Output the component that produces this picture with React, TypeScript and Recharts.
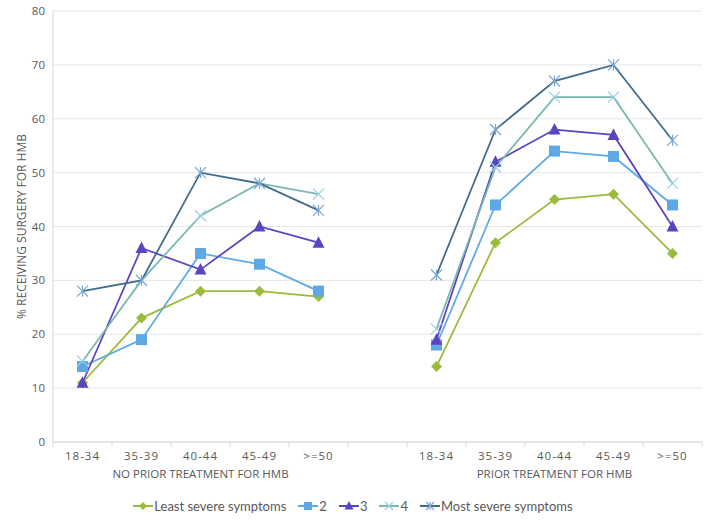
import React from 'react';
import { LineChart, Line, XAxis, YAxis, CartesianGrid, Legend } from 'recharts';

const ageBands = ['18-34', '35-39', '40-44', '45-49', '>=50'];
const groupLabels = ['NO PRIOR TREATMENT FOR HMB', 'PRIOR TREATMENT FOR HMB'];
const yTicks = [0, 10, 20, 30, 40, 50, 60, 70, 80];

// values per age band, no prior treatment / prior treatment
const leastNoPrior = [11, 23, 28, 28, 27];
const leastPrior = [14, 37, 45, 46, 35];
const twoNoPrior = [14, 19, 35, 33, 28];
const twoPrior = [18, 44, 54, 53, 44];
const threeNoPrior = [11, 36, 32, 40, 37];
const threePrior = [19, 52, 58, 57, 40];
const fourNoPrior = [15, 30, 42, 48, 46];
const fourPrior = [21, 51, 64, 64, 48];
const mostNoPrior = [28, 30, 50, 48, 43];
const mostPrior = [31, 58, 67, 70, 56];

const series = [
  { key: 'least', name: 'Least severe symptoms', color: '#9BBB3B', mark: '#9BBB3B', shape: 'diamond', no: leastNoPrior, yes: leastPrior },
  { key: 'two', name: '2', color: '#5DA9E6', mark: '#5DA9E6', shape: 'square', no: twoNoPrior, yes: twoPrior },
  { key: 'three', name: '3', color: '#5A44C2', mark: '#5A44C2', shape: 'triangle', no: threeNoPrior, yes: threePrior },
  { key: 'four', name: '4', color: '#79B8B0', mark: '#9ACFE3', shape: 'x', no: fourNoPrior, yes: fourPrior },
  { key: 'most', name: 'Most severe symptoms', color: '#3F6B8D', mark: '#7AA7CF', shape: 'star', no: mostNoPrior, yes: mostPrior },
];

const rows: any[] = [];
ageBands.forEach((a, i) => {
  const r: any = { label: a, group: i === 2 ? groupLabels[0] : '' };
  series.forEach((s) => (r[s.key] = s.no[i]));
  rows.push(r);
});
rows.push({ label: '', group: '' });
ageBands.forEach((a, i) => {
  const r: any = { label: a, group: i === 2 ? groupLabels[1] : '' };
  series.forEach((s) => (r[s.key] = s.yes[i]));
  rows.push(r);
});

const textColor = '#595959';
const font = '"Open Sans", "Liberation Sans", sans-serif';
const plotWidth = 649;
const halfBand = plotWidth / rows.length / 2;

function Marker({ shape, cx, cy, fill, r = 5.5 }: any) {
  if (shape === 'diamond') {
    return <path d={`M${cx},${cy - r}L${cx + r},${cy}L${cx},${cy + r}L${cx - r},${cy}Z`} fill={fill} />;
  }
  if (shape === 'square') {
    return <rect x={cx - r} y={cy - r} width={r * 2} height={r * 2} fill={fill} />;
  }
  if (shape === 'triangle') {
    return <path d={`M${cx},${cy - r - 1}L${cx + r + 0.5},${cy + r - 0.5}L${cx - r - 0.5},${cy + r - 0.5}Z`} fill={fill} />;
  }
  if (shape === 'x') {
    return (
      <g stroke={fill} strokeWidth={1.2}>
        <line x1={cx - r} y1={cy - r} x2={cx + r} y2={cy + r} />
        <line x1={cx - r} y1={cy + r} x2={cx + r} y2={cy - r} />
      </g>
    );
  }
  return (
    <g stroke={fill} strokeWidth={1.2}>
      <line x1={cx - r} y1={cy - r} x2={cx + r} y2={cy + r} />
      <line x1={cx - r} y1={cy + r} x2={cx + r} y2={cy - r} />
      <line x1={cx} y1={cy - r} x2={cx} y2={cy + r} />
    </g>
  );
}

function makeDot(shape: string, fill: string) {
  return (props: any) => {
    const { cx, cy, index, value } = props;
    if (cx == null || cy == null || value == null) return <g key={index} />;
    return (
      <g key={index}>
        <Marker shape={shape} cx={cx} cy={cy} fill={fill} />
      </g>
    );
  };
}

function AgeTick(props: any) {
  const { x, y, payload, index } = props;
  return (
    <g>
      <line x1={x - halfBand} y1={y} x2={x - halfBand} y2={y + 5} stroke="#d9d9d9" />
      {index === rows.length - 1 && <line x1={x + halfBand} y1={y} x2={x + halfBand} y2={y + 5} stroke="#d9d9d9" />}
      <text x={x} y={y + 18} textAnchor="middle" fill={textColor} fontSize={11.5} letterSpacing={1} fontFamily={font}>
        {payload.value}
      </text>
      {rows[index] && rows[index].group && (
        <text x={x} y={y + 36} textAnchor="middle" fill={textColor} fontSize={11.5} fontFamily={font}>
          {rows[index].group}
        </text>
      )}
    </g>
  );
}

function LegendContent() {
  return (
    <div style={{ display: 'flex', justifyContent: 'center', alignItems: 'center', gap: 12, paddingTop: 14, paddingLeft: 4, fontFamily: 'Lato, "Open Sans", sans-serif', fontSize: 13, color: textColor }}>
      {series.map((s) => (
        <div key={s.key} style={{ display: 'flex', alignItems: 'center' }}>
          <svg width={20} height={12} style={{ marginRight: 1 }}>
            <line x1={0} y1={6} x2={20} y2={6} stroke={s.color} strokeWidth={2} />
            <Marker shape={s.shape} cx={10} cy={6} fill={s.mark} r={4} />
          </svg>
          <span>{s.name}</span>
        </div>
      ))}
    </div>
  );
}

export default function App() {
  return (
    <div style={{ position: 'absolute', left: 0, top: 0, width: 715, height: 527, background: '#fff' }}>
      <LineChart width={715} height={527} data={rows} margin={{ top: 11, right: 13, left: 0, bottom: 0 }}>
        <CartesianGrid vertical={false} stroke="#e6e6e6" />
        <XAxis
          dataKey="label"
          interval={0}
          padding={{ left: halfBand, right: halfBand }}
          tickLine={false}
          tickSize={0}
          tickMargin={0}
          height={42}
          stroke="#d9d9d9"
          tick={<AgeTick />}
        />
        <YAxis
          domain={[0, 80]}
          ticks={yTicks}
          width={53}
          tickLine={false}
          stroke="#d9d9d9"
          tick={{ fill: textColor, fontSize: 11.5, fontFamily: font }}
          label={{
            value: '% RECEIVING SURGERY FOR HMB',
            angle: -90,
            position: 'insideLeft',
            offset: 22,
            style: { textAnchor: 'middle', fill: textColor, fontSize: 12, fontFamily: font },
          }}
        />
        <Legend verticalAlign="bottom" height={43} content={<LegendContent />} />
        {series.map((s) => (
          <Line
            key={s.key}
            dataKey={s.key}
            name={s.name}
            type="linear"
            stroke={s.color}
            strokeWidth={1.75}
            dot={makeDot(s.shape, s.mark)}
            activeDot={false}
            isAnimationActive={false}
          />
        ))}
      </LineChart>
    </div>
  );
}
